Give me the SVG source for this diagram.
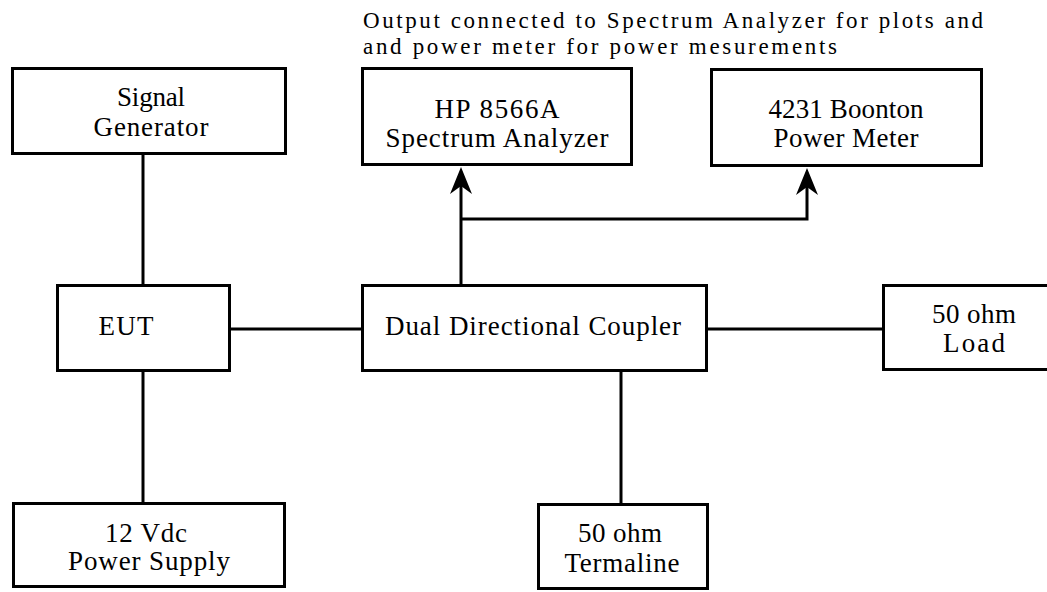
<svg xmlns="http://www.w3.org/2000/svg" width="1047" height="592" viewBox="0 0 1047 592">
<style>
.box{fill:#fff;stroke:#000;stroke-width:3}
.t{font-family:"Liberation Serif","Times New Roman",serif;font-size:27px;fill:#000;text-anchor:middle}
.note{font-family:"Liberation Serif","Times New Roman",serif;font-size:23px;fill:#000}
.c{fill:none;stroke:#000;stroke-width:3}
.ah{fill:#000}
</style>
<rect width="1047" height="592" fill="#fff"/>
<g id="note">
<text class="note" x="363" y="28" textLength="620" lengthAdjust="spacing">Output connected to Spectrum Analyzer for plots and</text>
<text class="note" x="363" y="54" textLength="474" lengthAdjust="spacing">and power meter for power mesurements</text>
</g>
<g id="connectors">
<line class="c" x1="143" y1="154" x2="143" y2="285"/>
<line class="c" x1="143" y1="371" x2="143" y2="503"/>
<line class="c" x1="231" y1="329" x2="362" y2="329"/>
<line class="c" x1="707" y1="329" x2="883" y2="329"/>
<line class="c" x1="621" y1="371" x2="621" y2="504"/>
<path class="c" d="M461,185 L461,285"/>
<path class="c" d="M461,219 L807,219 L807,186"/>
<path class="ah" d="M461,167 L450,194 L461,186 L472,194 Z"/>
<path class="ah" d="M807,168 L796,195 L807,187 L818,195 Z"/>
</g>
<g id="sg">
<rect class="box" x="12.5" y="68.5" width="273" height="85"/>
<text class="t" x="151" y="106" textLength="68">Signal</text>
<text class="t" x="151" y="136" textLength="115">Generator</text>
</g>
<g id="hp">
<rect class="box" x="362.5" y="68.5" width="269" height="96"/>
<text class="t" x="497" y="118" textLength="125">HP 8566A</text>
<text class="t" x="497" y="147" textLength="223">Spectrum Analyzer</text>
</g>
<g id="pm">
<rect class="box" x="711.5" y="69.5" width="270" height="96"/>
<text class="t" x="846" y="118" textLength="155">4231 Boonton</text>
<text class="t" x="846" y="147" textLength="145">Power Meter</text>
</g>
<g id="eut">
<rect class="box" x="57.5" y="285.5" width="172" height="85"/>
<text class="t" x="126" y="335" textLength="55">EUT</text>
</g>
<g id="ddc">
<rect class="box" x="362.5" y="285.5" width="344" height="85"/>
<text class="t" x="533" y="335" textLength="296">Dual Directional Coupler</text>
</g>
<g id="load">
<rect class="box" x="883.5" y="285.5" width="170" height="84"/>
<text class="t" x="974" y="323" textLength="84">50 ohm</text>
<text class="t" x="974" y="352" textLength="62">Load</text>
</g>
<g id="ps">
<rect class="box" x="13.5" y="503.5" width="271" height="83"/>
<text class="t" x="146" y="542" textLength="82">12 Vdc</text>
<text class="t" x="149" y="570" textLength="162">Power Supply</text>
</g>
<g id="term">
<rect class="box" x="538.5" y="504.5" width="169" height="84"/>
<text class="t" x="620" y="542" textLength="84">50 ohm</text>
<text class="t" x="622" y="572" textLength="115">Termaline</text>
</g>
</svg>
